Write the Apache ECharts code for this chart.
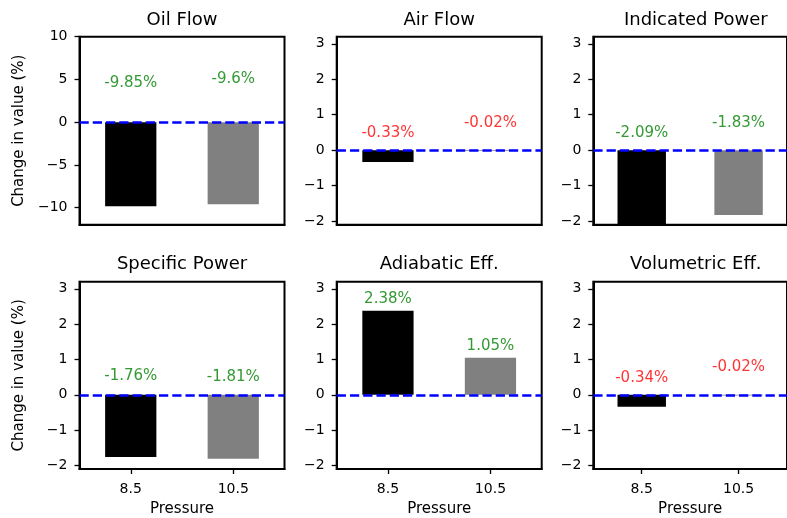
<!DOCTYPE html>
<html>
<head>
<meta charset="utf-8">
<script src="https://cdn.jsdelivr.net/npm/echarts@6/dist/echarts.min.js"></script>
<style>html,body{margin:0;padding:0;background:#fff}#c{width:787px;height:518px}</style>
</head>
<body>
<div id="c"></div>
<script>
var categories = ['8.5', '10.5'];
var panelTitles = ['Oil Flow', 'Air Flow', 'Indicated Power', 'Specific Power', 'Adiabatic Eff.', 'Volumetric Eff.'];
var oilFlow = [-9.85, -9.6];
var airFlow = [-0.33, -0.02];
var indicatedPower = [-2.09, -1.83];
var specificPower = [-1.76, -1.81];
var adiabaticEff = [2.38, 1.05];
var volumetricEff = [-0.34, -0.02];
// y positions (data units) of the value annotations
var oilFlowLabelY = [4.6, 5.0];
var airFlowLabelY = [0.47, 0.77];
var indicatedPowerLabelY = [0.47, 0.75];
var specificPowerLabelY = [0.53, 0.50];
var adiabaticEffLabelY = [2.71, 1.38];
var volumetricEffLabelY = [0.46, 0.78];
var oilTicks = [-10, -5, 0, 5, 10];
var otherTicks = [-2, -1, 0, 1, 2, 3];
var oilRange = [-12, 10];
var otherRange = [-2.1, 3.2];
var xAxisName = 'Pressure';
var yAxisName = 'Change in value (%)';

var panelValues = [oilFlow, airFlow, indicatedPower, specificPower, adiabaticEff, volumetricEff];
var panelLabelY = [oilFlowLabelY, airFlowLabelY, indicatedPowerLabelY, specificPowerLabelY, adiabaticEffLabelY, volumetricEffLabelY];

var FONT = 'DejaVu Sans';
var lefts = [79.5, 336.7, 593.3];
var tops = [36.7, 281.7];
var W = 205, H = 188;
var barColors = ['#000000', '#808080'];

var grids = [], xAxes = [], yAxes = [], series = [], titles = [];
for (var i = 0; i < 6; i++) {
  var row = Math.floor(i / 3), col = i % 3;
  var bottomRow = row === 1;
  var isOil = i === 0;
  grids.push({left: lefts[col], top: tops[row], width: W, height: H, show: true,
    borderColor: '#000', borderWidth: 2, backgroundColor: 'transparent', containLabel: false});
  titles.push({text: panelTitles[i], left: lefts[col] + W / 2, top: row === 0 ? 11.5 : 255,
    textAlign: 'center', padding: 0,
    textStyle: {fontFamily: FONT, fontSize: 18, fontWeight: 'normal', color: '#000'}});
  xAxes.push({type: 'category', gridIndex: i, data: categories,
    axisLine: {show: true, onZero: false, lineStyle: {color: '#000', width: 2}},
    axisTick: {show: bottomRow, alignWithLabel: true, length: 5, lineStyle: {color: '#000', width: 1.3}},
    axisLabel: {show: bottomRow, margin: 13, fontFamily: FONT, fontSize: 14, color: '#000'},
    name: bottomRow ? xAxisName : '', nameLocation: 'middle', nameGap: 33,
    nameTextStyle: {fontFamily: FONT, fontSize: 15, color: '#000'},
    splitLine: {show: false}});
  var ticks = isOil ? oilTicks : otherTicks;
  var rng = isOil ? oilRange : otherRange;
  yAxes.push({type: 'value', gridIndex: i, min: rng[0], max: rng[1],
    axisLine: {show: true, onZero: false, lineStyle: {color: '#000', width: 2}},
    axisTick: {show: true, length: 5, customValues: ticks, lineStyle: {color: '#000', width: 1.3}},
    axisLabel: {show: true, customValues: ticks, margin: 12, fontFamily: FONT, fontSize: 14, color: '#000',
      formatter: function (v) { return String(v).replace('-', '\u2212'); }},
    splitLine: {show: false},
    name: col === 0 ? yAxisName : '', nameLocation: 'middle', nameGap: 53,
    nameTextStyle: {fontFamily: FONT, fontSize: 15, color: '#000'}});
  var vals = panelValues[i];
  series.push({type: 'bar', xAxisIndex: i, yAxisIndex: i, barWidth: '50%',
    data: vals.map(function (v, k) { return {value: v, itemStyle: {color: barColors[k]}}; }),
    markLine: {silent: true, symbol: ['none', 'none'], label: {show: false},
      lineStyle: {color: '#0000ff', width: 2.5, type: [9.25, 4]},
      data: [{yAxis: 0}]},
    z: 2});
  var ly = panelLabelY[i];
  series.push({type: 'scatter', xAxisIndex: i, yAxisIndex: i, symbolSize: 0,
    data: vals.map(function (v, k) {
      return {value: [categories[k], ly[k]], txt: v + '%',
        label: {color: Math.abs(v) < 1 ? '#ff0000' : '#008000'}};
    }),
    label: {show: true, position: [0, 0], align: 'center', verticalAlign: 'middle',
      fontFamily: FONT, fontSize: 15,
      formatter: function (p) { return p.data.txt; }},
    z: 5});
}

var chart = echarts.init(document.getElementById('c'), null, {renderer: 'canvas'});
chart.setOption({
  animation: false,
  backgroundColor: '#fff',
  title: titles,
  grid: grids,
  xAxis: xAxes,
  yAxis: yAxes,
  series: series
});
</script>
</body>
</html>
